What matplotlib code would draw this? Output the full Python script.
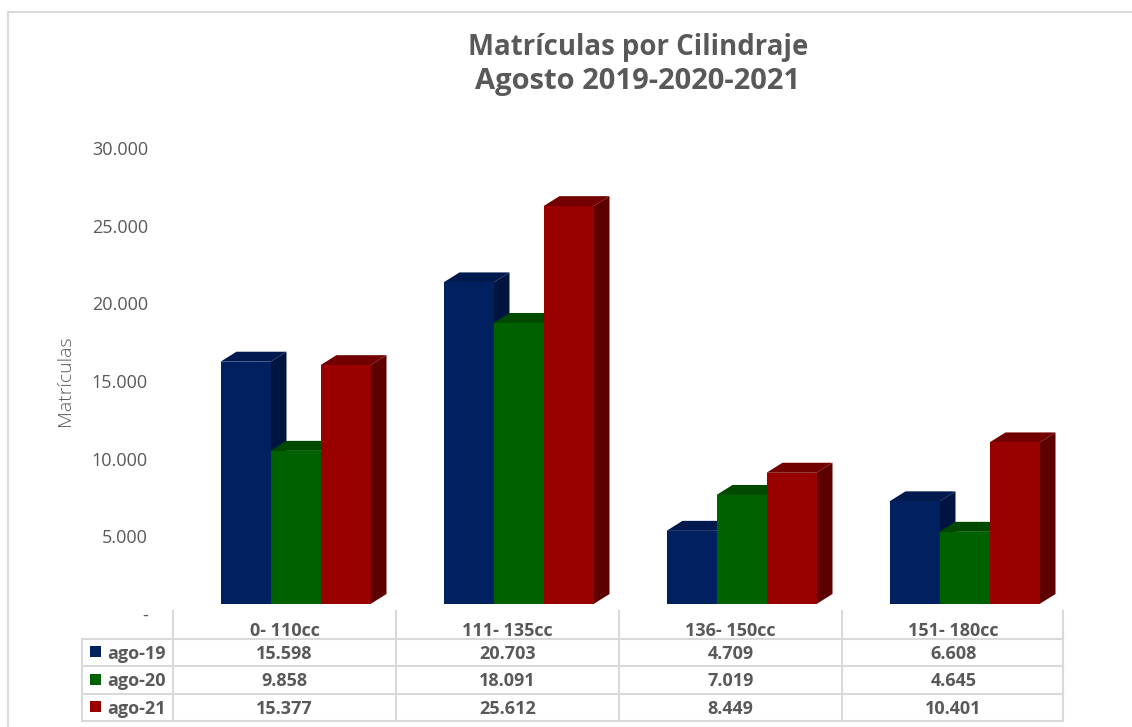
import matplotlib
matplotlib.use("Agg")
import matplotlib.pyplot as plt
from matplotlib.patches import Rectangle

categories = ["0- 110cc", "111- 135cc", "136- 150cc", "151- 180cc"]
series_names = ["ago-19", "ago-20", "ago-21"]
ago_19 = [15598, 20703, 4709, 6608]
ago_20 = [9858, 18091, 7019, 4645]
ago_21 = [15377, 25612, 8449, 10401]
y_ticks = [5000, 10000, 15000, 20000, 25000, 30000]

front_colors = ["#00205f", "#006100", "#990000"]
top_colors = ["#001a4f", "#004a00", "#730000"]
side_colors = ["#001440", "#003d00", "#5f0000"]
text_color = "#595959"
line_color = "#d9d9d9"


def fmt(v):
    return f"{v:,}".replace(",", ".")


plt.rcParams["font.family"] = ["Open Sans", "DejaVu Sans"]
W, H = 1132, 727
fig = plt.figure(figsize=(W / 100, H / 100), dpi=100)

# bars axes: 0 at pixel row 604, 30000 at row 138
ax = fig.add_axes([173 / W, (H - 604) / H, (1063 - 173) / W, 466 / H])
col_w = 223
ax.set_xlim(-(295.5 - 173) / col_w, 3 + (1063 - 964.5) / col_w)
ax.set_ylim(0, 30000)
ax.axis("off")

bar_w = 50 / col_w
depth_x = 16 / col_w
depth_y = 10 / 466 * 30000

all_series = [ago_19, ago_20, ago_21]
z = 2
for i in range(len(categories)):
    for s, vals in enumerate(all_series):
        x0 = i + (s - 1.5) * bar_w
        x1 = x0 + bar_w
        v = vals[i]
        ax.fill([x0, x1, x1 + depth_x, x0 + depth_x],
                [v, v, v + depth_y, v + depth_y],
                color=top_colors[s], lw=0, zorder=z)
        ax.fill([x1, x1 + depth_x, x1 + depth_x, x1],
                [0, depth_y, v + depth_y, v],
                color=side_colors[s], lw=0, zorder=z)
        ax.bar(x0, v, bar_w, align="edge", color=front_colors[s], lw=0, zorder=z + 0.5)
        z += 1

# tick labels sit a bit lower than the bar floor
for v in [0] + y_ticks:
    ax.annotate(fmt(v) if v else "-", xy=(0, v), xycoords=ax.get_yaxis_transform(),
                xytext=(-18, -8.6), textcoords="offset points",
                ha="right", va="center", fontsize=13, color=text_color)

# overlay in pixel coordinates for frame, titles and table
ov = fig.add_axes([0, 0, 1, 1], zorder=5)
ov.set_xlim(0, W)
ov.set_ylim(H, 0)
ov.axis("off")

ov.plot([8, 8, W], [H, 12, 12], color=line_color, lw=1.5)

ov.text(638, 48, "Matrículas por Cilindraje", ha="center", va="center",
        fontsize=19.9, fontweight="bold", color=text_color)
ov.text(638, 82, "Agosto 2019-2020-2021", ha="center", va="center",
        fontsize=21, fontweight="bold", color=text_color)
ov.text(65, 381, "Matrículas", rotation=90, ha="center", va="center",
        fontsize=14, color=text_color, fontweight="light")

col_x = [173 + col_w * k for k in range(4)] + [1063]
row_y = [639, 666, 694, 721]
for y in row_y:
    ov.plot([82, 1063], [y, y], color=line_color, lw=1.5)
ov.plot([82, 82], [row_y[0], row_y[-1]], color=line_color, lw=1.5)
for x in col_x:
    ov.plot([x, x], [611, row_y[-1]], color=line_color, lw=1.5)

for k, name in enumerate(categories):
    ov.text(col_x[k] + col_w / 2, 631, name, ha="center", va="center",
            fontsize=13, fontweight="bold", color=text_color)

for s, vals in enumerate(all_series):
    yc = (row_y[s] + row_y[s + 1]) / 2
    ov.add_patch(Rectangle((90, yc - 6.5), 11, 11, color=front_colors[s], lw=0))
    ov.text(107, yc + 1.5, series_names[s], ha="left", va="center",
            fontsize=13, fontweight="bold", color=text_color)
    for k, v in enumerate(vals):
        ov.text(col_x[k] + col_w / 2, yc + 1.5, fmt(v), ha="center", va="center",
                fontsize=13, fontweight="bold", color=text_color)

fig.savefig("out.png", dpi=100)
